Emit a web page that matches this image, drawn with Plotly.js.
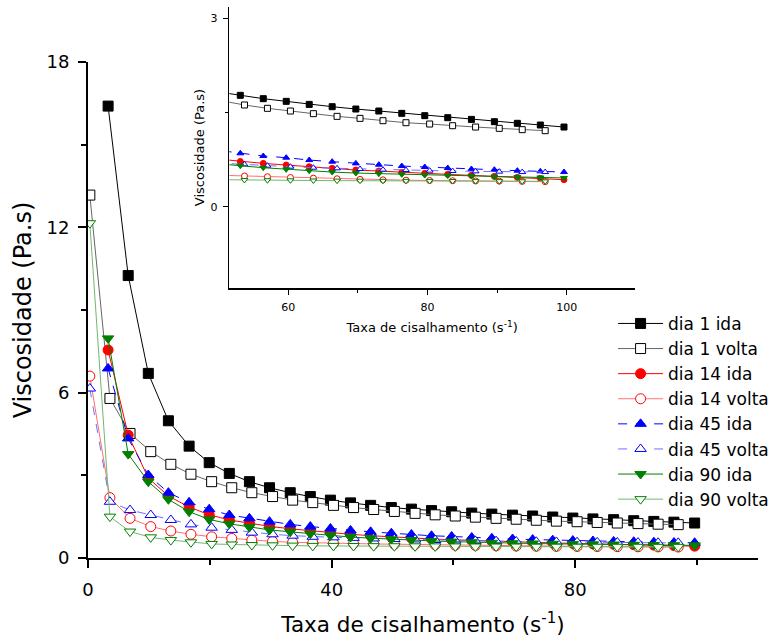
<!DOCTYPE html>
<html><head><meta charset="utf-8">
<script src="https://cdn.plot.ly/plotly-3.0.1.min.js"></script>
<style>html,body{margin:0;padding:0;background:#fff}#chart{width:780px;height:644px}</style>
</head><body><div id="chart"></div>
<script>
// shear rate (s^-1)
const xIda   = [3.3, 6.6, 9.9, 13.2, 16.6, 19.9, 23.2, 26.5, 29.8, 33.2, 36.5, 39.8, 43.1, 46.4, 49.8, 53.1, 56.4, 59.7, 63.0, 66.3, 69.7, 73.0, 76.3, 79.6, 82.9, 86.3, 89.6, 92.9, 96.2, 99.6];
const xVolta = [0.3, 3.6, 6.9, 10.3, 13.6, 16.9, 20.3, 23.6, 26.9, 30.3, 33.6, 36.9, 40.3, 43.6, 46.9, 50.3, 53.7, 57.0, 60.3, 63.6, 67.0, 70.3, 73.6, 76.9, 80.3, 83.6, 86.9, 90.3, 93.6, 96.9];
// viscosity (Pa.s)
const dia1Ida    = [16.4, 10.25, 6.7, 4.98, 4.06, 3.46, 3.07, 2.77, 2.55, 2.37, 2.23, 2.10, 2.00, 1.91, 1.83, 1.774, 1.721, 1.678, 1.630, 1.593, 1.556, 1.524, 1.487, 1.450, 1.418, 1.391, 1.354, 1.328, 1.301, 1.269];
const dia1Volta  = [13.17, 5.79, 4.52, 3.86, 3.40, 3.04, 2.77, 2.55, 2.37, 2.23, 2.10, 2.01, 1.91, 1.83, 1.76, 1.69, 1.620, 1.567, 1.524, 1.482, 1.439, 1.407, 1.370, 1.338, 1.317, 1.290, 1.269, 1.248, 1.227, 1.211];
const dia14Ida   = [7.55, 4.46, 2.90, 2.25, 1.85, 1.57, 1.38, 1.26, 1.15, 1.06, 0.99, 0.93, 0.86, 0.81, 0.76, 0.72, 0.690, 0.664, 0.637, 0.611, 0.584, 0.568, 0.547, 0.531, 0.515, 0.499, 0.483, 0.467, 0.451, 0.430];
const dia14Volta = [6.6, 2.19, 1.44, 1.14, 0.98, 0.86, 0.77, 0.71, 0.65, 0.60, 0.57, 0.55, 0.53, 0.52, 0.51, 0.50, 0.489, 0.478, 0.465, 0.455, 0.445, 0.435, 0.428, 0.422, 0.418, 0.414, 0.410, 0.407, 0.403, 0.398];
const dia45Ida   = [6.88, 4.34, 3.01, 2.37, 2.02, 1.77, 1.56, 1.44, 1.32, 1.22, 1.14, 1.07, 1.00, 0.95, 0.90, 0.850, 0.807, 0.781, 0.743, 0.717, 0.690, 0.669, 0.648, 0.632, 0.616, 0.600, 0.589, 0.574, 0.563, 0.552];
const dia45Volta = [6.15, 2.04, 1.74, 1.56, 1.38, 1.22, 1.10, 1.02, 0.92, 0.86, 0.81, 0.77, 0.75, 0.73, 0.71, 0.69, 0.674, 0.653, 0.637, 0.621, 0.611, 0.600, 0.589, 0.584, 0.574, 0.568, 0.563, 0.558, 0.552, 0.552];
const dia90Ida   = [7.97, 3.77, 2.77, 2.13, 1.68, 1.40, 1.24, 1.12, 1.02, 0.95, 0.88, 0.82, 0.76, 0.72, 0.68, 0.653, 0.621, 0.595, 0.572, 0.552, 0.536, 0.526, 0.515, 0.504, 0.496, 0.489, 0.480, 0.474, 0.466, 0.458];
const dia90Volta = [12.15, 1.50, 0.96, 0.75, 0.65, 0.57, 0.51, 0.49, 0.47, 0.46, 0.45, 0.44, 0.44, 0.435, 0.43, 0.428, 0.425, 0.422, 0.420, 0.417, 0.415, 0.414, 0.412, 0.411, 0.410, 0.409, 0.408, 0.407, 0.405, 0.404];

const seriesNames = ['dia 1 ida','dia 1 volta','dia 14 ida','dia 14 volta','dia 45 ida','dia 45 volta','dia 90 ida','dia 90 volta'];

const defs = [
  {x:xIda,   y:dia1Ida,    sym:'square',        mc:'#000000', fill:'#000000', lc:'#000000', dash:'solid'},
  {x:xVolta, y:dia1Volta,  sym:'square',        mc:'#000000', fill:'#ffffff', lc:'#666666', dash:'solid'},
  {x:xIda,   y:dia14Ida,   sym:'circle',        mc:'#ff0000', fill:'#ff0000', lc:'#ff0000', dash:'solid'},
  {x:xVolta, y:dia14Volta, sym:'circle',        mc:'#ff0000', fill:'#ffffff', lc:'#ff7070', dash:'solid'},
  {x:xIda,   y:dia45Ida,   sym:'triangle-up',   mc:'#0000ff', fill:'#0000ff', lc:'#0000ff', dash:'dash'},
  {x:xVolta, y:dia45Volta, sym:'triangle-up',   mc:'#0000ff', fill:'#ffffff', lc:'#7070ff', dash:'dash'},
  {x:xIda,   y:dia90Ida,   sym:'triangle-down', mc:'#007f00', fill:'#007f00', lc:'#007f00', dash:'solid'},
  {x:xVolta, y:dia90Volta, sym:'triangle-down', mc:'#007f00', fill:'#ffffff', lc:'#70b870', dash:'solid'}
];

const traces = [];
defs.forEach((d, i) => {
  traces.push({
    type:'scatter', mode:'lines+markers', name:seriesNames[i], x:d.x, y:d.y,
    xaxis:'x', yaxis:'y', showlegend:true,
    line:{color:d.lc, width:1, dash:d.dash},
    marker:{symbol:d.sym, size:10, color:d.fill, line:{color:d.mc, width:1}}
  });
});
defs.forEach((d, i) => {
  traces.push({
    type:'scatter', mode:'lines+markers', name:seriesNames[i], x:d.x, y:d.y,
    xaxis:'x2', yaxis:'y2', showlegend:false,
    line:{color:d.lc, width:1, dash:d.dash},
    marker:{symbol:d.sym, size:6, color:d.fill, line:{color:d.mc, width:1}}
  });
});

const F = 'DejaVu Sans, Arial, sans-serif';
const layout = {
  width:780, height:644,
  margin:{l:0, r:0, t:0, b:0},
  paper_bgcolor:'#ffffff', plot_bgcolor:'rgba(0,0,0,0)',
  font:{family:F, color:'#000000'},
  showlegend:true,
  legend:{x:0.786, y:0.525, xanchor:'left', yanchor:'top', font:{size:17, family:F},
          bgcolor:'rgba(0,0,0,0)', itemwidth:45, tracegroupgap:0},
  xaxis:{domain:[0.11282, 0.97179], range:[0, 110], anchor:'y',
         showline:true, linewidth:2, linecolor:'#000', mirror:false,
         ticks:'outside', ticklen:8, tickwidth:2, tickcolor:'#000',
         tick0:0, dtick:40, minor:{dtick:20, ticks:'outside', ticklen:5, tickwidth:2, tickcolor:'#000', showgrid:false},
         showgrid:false, zeroline:false, tickfont:{size:18}, ticklabelstandoff:6,
         title:{text:'Taxa de cisalhamento (s<sup>-1</sup>)', font:{size:21.5}, standoff:18}},
  yaxis:{domain:[0.13354, 0.90373], range:[0, 18], anchor:'x',
         showline:true, linewidth:2, linecolor:'#000',
         ticks:'outside', ticklen:8, tickwidth:2, tickcolor:'#000',
         tick0:0, dtick:6, minor:{dtick:3, ticks:'outside', ticklen:5, tickwidth:2, tickcolor:'#000', showgrid:false},
         showgrid:false, zeroline:false, tickfont:{size:18}, ticklabelstandoff:5,
         title:{text:'Viscosidade (Pa.s)', font:{size:24}, standoff:8}},
  xaxis2:{domain:[0.29397, 0.81410], range:[51.52, 109.8], anchor:'y2',
          showline:true, linewidth:1.5, linecolor:'#000',
          ticks:'outside', ticklen:5, tickwidth:1, tickcolor:'#000',
          tick0:0, dtick:20, minor:{dtick:10, ticks:'outside', ticklen:3, tickwidth:1, tickcolor:'#000', showgrid:false},
          showgrid:false, zeroline:false, tickfont:{size:11}, ticklabelstandoff:3,
          title:{text:'Taxa de cisalhamento (s<sup>-1</sup>)', font:{size:13}, standoff:10}},
  yaxis2:{domain:[0.55233, 0.98960], range:[-1.30, 3.186], anchor:'x2',
          showline:true, linewidth:1.5, linecolor:'#000',
          ticks:'outside', ticklen:5, tickwidth:1, tickcolor:'#000',
          tick0:0, dtick:3, minor:{dtick:1.5, ticks:'outside', ticklen:3, tickwidth:1, tickcolor:'#000', showgrid:false},
          showgrid:false, zeroline:false, tickfont:{size:11}, ticklabelstandoff:3,
          title:{text:'Viscosidade (Pa.s)', font:{size:13}, standoff:3}}
};

Plotly.newPlot('chart', traces, layout, {staticPlot:true, displayModeBar:false});
</script>
</body></html>
